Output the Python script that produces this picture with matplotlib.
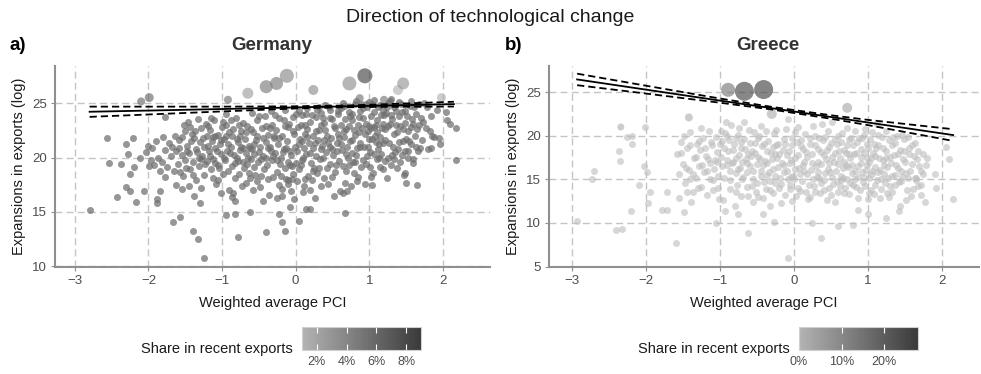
import matplotlib
matplotlib.use('Agg')
import matplotlib.pyplot as plt
from matplotlib.colors import LinearSegmentedColormap, Normalize
from matplotlib.cm import ScalarMappable

plt.rcParams['font.family'] = ['Liberation Sans', 'DejaVu Sans']

# ---------------- data: Germany ----------------
de_cloud = [
    (-2.03, 20.5), (-1.97, 19.8), (-1.95, 20.9), (-1.92, 19.3), (-1.90, 21.5), (-1.87, 20.0), (-1.84, 18.8), (-1.80, 21.9),
    (-1.82, 19.6), (-1.78, 20.7), (-1.75, 19.1), (-1.72, 21.3), (-1.70, 20.1), (-1.66, 18.8), (-1.64, 22.0), (-1.62, 20.6),
    (-1.60, 19.4), (-1.58, 21.6), (-1.55, 20.2), (-1.53, 18.3), (-1.51, 22.4), (-1.50, 19.8), (-1.63, 17.5), (-1.68, 21.0),
    (-1.77, 23.7),
    (-1.48, 21.1), (-1.46, 23.3), (-1.45, 20.4), (-1.43, 18.9), (-1.41, 22.2), (-1.40, 19.6), (-1.38, 21.8), (-1.36, 20.8),
    (-1.35, 17.9), (-1.33, 23.5), (-1.31, 19.2), (-1.30, 21.4), (-1.28, 22.7), (-1.27, 20.1), (-1.25, 18.4), (-1.24, 21.0),
    (-1.22, 23.1), (-1.21, 19.7), (-1.20, 22.0), (-1.34, 20.5), (-1.44, 22.8), (-1.29, 17.2),
    (-1.18, 20.6), (-1.17, 22.5), (-1.15, 18.9), (-1.14, 21.5), (-1.12, 19.9), (-1.11, 23.4), (-1.09, 20.9), (-1.08, 17.6),
    (-1.06, 22.1), (-1.05, 19.3), (-1.03, 21.2), (-1.02, 20.3), (-1.00, 22.8), (-0.99, 18.5), (-0.97, 21.7), (-0.96, 19.8),
    (-0.94, 23.0), (-0.93, 20.6), (-0.91, 22.3), (-0.90, 17.0), (-1.13, 21.9), (-1.01, 16.7), (-0.95, 24.0),
    (-0.88, 21.0), (-0.87, 19.2), (-0.85, 22.6), (-0.84, 20.2), (-0.82, 18.1), (-0.81, 23.6), (-0.79, 21.4), (-0.78, 19.7),
    (-0.76, 22.0), (-0.75, 20.7), (-0.73, 17.4), (-0.72, 23.2), (-0.70, 19.0), (-0.69, 21.7), (-0.67, 20.4), (-0.66, 22.9),
    (-0.64, 18.6), (-0.63, 21.1), (-0.61, 19.9), (-0.60, 24.1), (-0.86, 16.4), (-0.74, 22.4), (-0.68, 17.7), (-0.62, 20.9),
    (-0.80, 20.0),
    (-0.58, 22.3), (-0.57, 20.3), (-0.55, 18.4), (-0.54, 21.6), (-0.52, 23.4), (-0.51, 19.6), (-0.49, 21.0), (-0.48, 17.3),
    (-0.46, 22.7), (-0.45, 20.1), (-0.43, 18.9), (-0.42, 23.8), (-0.40, 21.4), (-0.39, 19.3), (-0.37, 22.1), (-0.36, 16.6),
    (-0.34, 20.6), (-0.33, 24.3), (-0.31, 18.2), (-0.30, 21.8), (-0.56, 21.2), (-0.47, 19.9), (-0.38, 20.9), (-0.32, 23.0),
    (-0.53, 17.8),
    (-0.28, 20.4), (-0.27, 22.5), (-0.25, 18.7), (-0.24, 21.2), (-0.22, 23.6), (-0.21, 19.4), (-0.19, 17.1), (-0.18, 22.0),
    (-0.16, 20.8), (-0.15, 24.4), (-0.13, 18.0), (-0.12, 21.5), (-0.10, 19.6), (-0.09, 23.1), (-0.07, 16.9), (-0.06, 20.2),
    (-0.04, 22.4), (-0.03, 18.5), (-0.01, 21.0), (0.00, 24.0), (-0.26, 16.3), (-0.20, 20.0), (-0.11, 17.6), (-0.05, 19.2),
    (-0.02, 16.2), (-0.14, 22.9),
    (0.02, 20.6), (0.03, 22.8), (0.05, 18.9), (0.06, 21.7), (0.08, 23.9), (0.09, 19.8), (0.11, 17.4), (0.12, 22.2),
    (0.14, 20.3), (0.15, 24.5), (0.17, 18.3), (0.18, 21.3), (0.20, 23.3), (0.21, 19.5), (0.23, 22.0), (0.24, 20.9),
    (0.26, 16.3), (0.27, 23.7), (0.29, 18.6), (0.30, 21.6), (0.04, 24.3), (0.10, 16.8), (0.16, 21.9), (0.22, 17.9),
    (0.28, 20.1), (0.13, 23.0), (0.07, 19.3),
    (0.32, 22.5), (0.33, 19.9), (0.35, 24.1), (0.36, 21.1), (0.38, 18.1), (0.39, 23.2), (0.41, 20.5), (0.42, 22.0),
    (0.44, 17.6), (0.45, 24.6), (0.47, 19.4), (0.48, 21.8), (0.50, 23.5), (0.51, 20.2), (0.53, 18.7), (0.54, 22.7),
    (0.56, 21.3), (0.57, 24.3), (0.59, 19.7), (0.60, 16.9), (0.34, 20.8), (0.40, 24.8), (0.46, 21.0), (0.52, 16.5),
    (0.58, 22.2), (0.37, 23.6),
    (0.62, 23.0), (0.63, 20.7), (0.65, 24.7), (0.66, 21.9), (0.68, 18.8), (0.69, 22.6), (0.71, 20.0), (0.72, 24.2),
    (0.74, 21.5), (0.75, 17.4), (0.77, 23.4), (0.78, 19.6), (0.80, 22.1), (0.81, 24.9), (0.83, 20.9), (0.84, 18.2),
    (0.86, 23.7), (0.87, 21.3), (0.89, 19.1), (0.90, 22.7), (0.64, 25.0), (0.70, 16.9), (0.76, 20.4), (0.82, 25.2),
    (0.88, 24.3), (0.67, 17.7), (0.73, 22.9), (0.79, 18.6),
    (0.92, 24.5), (0.93, 21.0), (0.95, 23.1), (0.96, 19.4), (0.98, 22.4), (0.99, 25.1), (1.01, 20.5), (1.02, 23.8),
    (1.04, 21.7), (1.05, 18.6), (1.07, 24.2), (1.08, 22.0), (1.10, 19.9), (1.11, 23.4), (1.13, 21.2), (1.14, 24.8),
    (1.16, 20.3), (1.17, 22.7), (1.19, 18.9), (1.20, 23.9), (0.94, 17.6), (1.00, 22.9), (1.06, 25.3), (1.12, 20.8),
    (1.18, 24.4), (0.97, 20.1), (1.03, 18.2), (1.09, 21.4), (1.15, 19.1),
    (1.22, 21.6), (1.23, 24.1), (1.25, 20.0), (1.26, 22.9), (1.28, 25.2), (1.29, 19.3), (1.31, 23.5), (1.32, 21.0),
    (1.34, 24.6), (1.35, 20.5), (1.37, 22.3), (1.38, 19.0), (1.40, 23.8), (1.41, 21.4), (1.43, 24.9), (1.44, 20.2),
    (1.46, 22.6), (1.47, 18.4), (1.49, 23.2), (1.50, 21.7), (1.24, 18.1), (1.30, 25.4), (1.36, 23.0), (1.42, 19.6),
    (1.48, 24.3),
    (1.52, 22.4), (1.53, 20.0), (1.55, 24.7), (1.57, 21.2), (1.58, 23.5), (1.60, 19.5), (1.62, 22.0), (1.64, 24.0),
    (1.66, 20.6), (1.68, 23.0), (1.71, 21.6), (1.74, 25.0), (1.77, 22.7), (1.80, 20.8), (1.84, 23.8), (1.88, 21.9),
    (1.92, 24.4), (1.56, 25.2), (1.63, 21.0), (1.70, 23.6), (1.59, 19.9), (1.85, 22.0),
]
de_cloud2 = [
    (-1.59, 20.9), (-1.54, 21.9), (-1.49, 19.0), (-1.47, 20.6), (-1.42, 21.5), (-1.39, 18.4), (-1.37, 22.4), (-1.32, 20.0),
    (-1.26, 21.8), (-1.23, 19.4), (-1.19, 22.9), (-1.57, 18.7), (-1.52, 23.0), (-1.45, 17.4), (-1.28, 19.9),
    (-1.16, 20.1), (-1.13, 18.1), (-1.10, 22.0), (-1.07, 20.6), (-1.04, 19.0), (-1.01, 21.6), (-0.98, 20.0), (-0.95, 22.0),
    (-0.92, 18.8), (-1.15, 23.6), (-1.06, 17.9), (-0.99, 23.3), (-0.92, 21.2), (-1.19, 21.1), (-1.09, 19.5),
    (-0.89, 20.4), (-0.86, 22.0), (-0.83, 19.5), (-0.80, 21.7), (-0.77, 18.5), (-0.74, 21.0), (-0.71, 19.6), (-0.68, 22.3),
    (-0.65, 20.0), (-0.62, 18.1), (-0.88, 23.4), (-0.82, 16.0), (-0.77, 23.0), (-0.71, 20.9), (-0.66, 19.4), (-0.61, 22.6),
    (-0.59, 20.8), (-0.56, 19.1), (-0.53, 22.0), (-0.50, 20.5), (-0.47, 18.3), (-0.44, 21.8), (-0.41, 20.0), (-0.38, 18.0),
    (-0.35, 22.7), (-0.32, 19.8), (-0.58, 17.0), (-0.50, 23.8), (-0.44, 16.0), (-0.40, 22.9), (-0.35, 21.0), (-0.31, 20.1),
    (-0.29, 22.0), (-0.26, 19.8), (-0.23, 21.8), (-0.20, 18.3), (-0.17, 20.5), (-0.14, 19.0), (-0.11, 22.8), (-0.08, 20.6),
    (-0.05, 18.0), (-0.02, 22.2), (-0.28, 23.9), (-0.22, 17.5), (-0.16, 23.4), (-0.10, 17.9), (-0.04, 23.7), (-0.08, 19.3),
    (-0.13, 20.9), (-0.18, 16.5),
    (0.01, 19.5), (0.04, 21.2), (0.07, 23.0), (0.10, 20.0), (0.13, 18.0), (0.16, 22.6), (0.19, 20.4), (0.22, 23.9),
    (0.25, 19.0), (0.28, 22.4), (0.02, 17.8), (0.08, 21.5), (0.14, 24.0), (0.20, 17.0), (0.26, 21.3), (0.29, 24.4),
    (0.11, 20.9), (0.23, 18.8),
    (0.31, 19.0), (0.34, 23.0), (0.37, 20.0), (0.40, 22.5), (0.43, 19.0), (0.46, 23.6), (0.49, 20.8), (0.52, 22.9),
    (0.55, 19.3), (0.58, 24.0), (0.32, 24.6), (0.38, 21.6), (0.44, 21.3), (0.50, 18.2), (0.56, 20.6), (0.59, 21.8),
    (0.35, 17.4), (0.47, 24.4),
    (0.61, 21.2), (0.64, 19.2), (0.67, 23.5), (0.70, 21.0), (0.73, 19.3), (0.76, 24.0), (0.79, 22.5), (0.82, 20.2),
    (0.85, 23.0), (0.88, 21.0), (0.62, 24.5), (0.68, 20.3), (0.74, 23.8), (0.80, 19.6), (0.86, 22.3), (0.89, 24.9),
    (0.65, 22.4), (0.77, 21.6), (0.83, 17.8),
    (0.91, 23.6), (0.94, 22.2), (0.97, 24.6), (1.00, 21.7), (1.03, 22.7), (1.06, 20.3), (1.09, 23.0), (1.12, 24.6),
    (1.15, 21.9), (1.18, 23.1), (0.92, 19.8), (0.98, 21.0), (1.04, 24.9), (1.10, 22.3), (1.16, 23.9), (1.19, 21.3),
    (0.95, 24.9), (1.01, 19.1), (1.07, 22.8), (1.13, 20.0),
    (1.21, 22.6), (1.24, 24.6), (1.27, 21.3), (1.30, 23.9), (1.33, 22.2), (1.36, 24.3), (1.39, 20.8), (1.42, 22.9),
    (1.45, 24.2), (1.48, 20.6), (1.22, 19.7), (1.28, 23.1), (1.34, 19.9), (1.40, 25.1), (1.46, 21.5), (1.25, 25.0),
    (1.31, 20.2),
    (1.51, 23.8), (1.54, 21.5), (1.57, 22.8), (1.61, 24.6), (1.65, 22.6), (1.69, 20.9), (1.73, 23.3), (1.78, 24.6),
    (1.82, 22.4), (1.52, 20.6), (1.60, 23.1), (1.67, 24.9),
]
de_outliers = [
    (-2.80, 15.15), (-2.57, 21.8), (-2.54, 19.5), (-2.43, 16.4), (-2.37, 19.4), (-2.31, 21.2), (-2.28, 20.3),
    (-2.31, 17.3), (-2.25, 18.5), (-2.25, 16.9), (-2.21, 21.8), (-2.19, 19.1), (-2.17, 15.9), (-2.12, 20.0),
    (-2.06, 16.9), (-2.00, 21.1), (-1.99, 19.2), (-1.89, 15.8), (-1.88, 16.2), (-1.85, 16.9), (-1.77, 18.2),
    (-1.67, 14.1), (-1.57, 14.5), (-1.39, 13.3), (-1.33, 12.5), (-1.25, 10.8), (-1.30, 15.8), (-1.38, 16.5),
    (-1.55, 17.1), (-0.94, 14.7), (-0.85, 16.7), (-0.79, 12.7), (-0.83, 14.8), (-0.62, 15.0), (-0.40, 13.2),
    (-0.23, 14.8), (-0.15, 13.3), (-0.19, 14.1), (-0.08, 15.5), (0.05, 14.2), (0.14, 15.3), (0.20, 15.3),
    (0.67, 14.9), (0.64, 16.7), (1.04, 17.5), (1.48, 18.6), (1.50, 17.7), (1.65, 17.5), (1.84, 20.9),
    (1.95, 21.8), (1.96, 21.2), (2.05, 23.4), (2.10, 23.1), (2.18, 22.7), (2.18, 19.8), (2.04, 24.2),
]
# large products: x, y, share in recent exports (%), marker diameter (px)
de_big_x = [-2.10, -1.99, -0.92, -0.65, -0.40, -0.26, -0.12, 0.24, 0.73, 0.94, 1.39, 1.46, 1.98, 0.87, 1.20]
de_big_y = [25.15, 25.5, 25.3, 25.9, 26.5, 26.8, 27.5, 26.2, 26.8, 27.5, 26.2, 26.8, 25.5, 25.45, 25.3]
de_big_share = [5.8, 5.8, 5.2, 2.4, 4.6, 4.6, 3.8, 3.3, 3.3, 8.2, 1.1, 2.9, 0.5, 5.0, 5.0]
de_big_size = [8, 9, 8, 11, 13, 13, 14, 10, 14, 15, 10, 12, 9, 8, 8]

de_fit_x = [-2.8, -2.0, -1.0, 0.0, 0.5, 1.0, 1.5, 2.15]
de_fit_y = [24.20, 24.31, 24.45, 24.60, 24.67, 24.74, 24.81, 24.90]
de_fit_hi = [24.67, 24.67, 24.67, 24.70, 24.75, 24.84, 24.96, 25.12]
de_fit_lo = [23.73, 23.95, 24.23, 24.50, 24.59, 24.64, 24.66, 24.68]

# ---------------- data: Greece ----------------
gr_cloud = [
    (-1.58, 17.9), (-1.55, 15.6), (-1.52, 19.3), (-1.50, 16.8), (-1.47, 14.6), (-1.45, 18.6), (-1.42, 16.1), (-1.40, 20.4),
    (-1.37, 13.6), (-1.35, 17.4), (-1.33, 15.2), (-1.31, 19.0), (-1.56, 12.9), (-1.48, 20.0), (-1.39, 12.4),
    (-1.29, 16.5), (-1.27, 18.4), (-1.25, 14.1), (-1.23, 19.7), (-1.21, 15.8), (-1.19, 17.7), (-1.17, 13.2), (-1.15, 20.6),
    (-1.13, 16.9), (-1.11, 18.9), (-1.09, 14.9), (-1.07, 17.2), (-1.05, 19.9), (-1.03, 15.4), (-1.01, 12.7), (-1.26, 20.9),
    (-1.18, 16.0), (-1.10, 13.8), (-1.04, 18.1),
    (-0.99, 17.6), (-0.97, 19.4), (-0.95, 15.1), (-0.93, 20.3), (-0.91, 16.6), (-0.89, 18.2), (-0.87, 13.9), (-0.85, 21.2),
    (-0.83, 17.0), (-0.81, 19.0), (-0.79, 15.7), (-0.77, 14.4), (-0.75, 20.1), (-0.73, 16.3), (-0.71, 18.6), (-0.96, 12.6),
    (-0.92, 21.6), (-0.86, 16.0), (-0.80, 12.0), (-0.74, 17.8), (-0.78, 19.8), (-0.72, 13.1),
    (-0.69, 15.3), (-0.67, 19.6), (-0.65, 17.3), (-0.63, 14.1), (-0.61, 20.7), (-0.59, 16.5), (-0.57, 18.3), (-0.55, 15.0),
    (-0.53, 19.2), (-0.51, 13.5), (-0.49, 17.6), (-0.47, 20.0), (-0.45, 16.0), (-0.43, 18.8), (-0.41, 14.7), (-0.68, 21.6),
    (-0.62, 17.9), (-0.56, 12.4), (-0.50, 16.8), (-0.44, 21.1), (-0.64, 15.9), (-0.48, 19.7), (-0.42, 12.9),
    (-0.39, 17.1), (-0.37, 15.5), (-0.35, 19.4), (-0.33, 13.8), (-0.31, 18.0), (-0.29, 16.2), (-0.27, 20.3), (-0.25, 14.6),
    (-0.23, 17.5), (-0.21, 19.0), (-0.19, 15.1), (-0.17, 12.3), (-0.15, 18.4), (-0.13, 16.6), (-0.11, 20.8), (-0.38, 20.5),
    (-0.32, 12.0), (-0.26, 17.9), (-0.20, 14.0), (-0.14, 15.8), (-0.12, 13.2), (-0.36, 16.9), (-0.24, 18.9),
    (-0.09, 16.0), (-0.07, 18.3), (-0.05, 14.4), (-0.03, 19.8), (-0.01, 15.4), (0.01, 17.4), (0.03, 13.1), (0.05, 21.0),
    (0.07, 16.3), (0.09, 18.8), (0.11, 14.8), (0.13, 17.0), (0.15, 20.2), (0.17, 15.6), (0.19, 12.8), (-0.08, 21.9),
    (-0.04, 17.2), (0.00, 15.0), (0.04, 19.3), (0.08, 13.7), (0.12, 16.7), (0.16, 18.1), (-0.02, 12.5),
    (0.21, 19.1), (0.23, 16.1), (0.25, 17.9), (0.27, 14.2), (0.29, 20.0), (0.31, 15.3), (0.33, 18.5), (0.35, 13.4),
    (0.37, 16.8), (0.39, 19.5), (0.41, 14.9), (0.43, 17.3), (0.45, 12.6), (0.47, 18.7), (0.49, 15.8), (0.22, 13.0),
    (0.26, 21.1), (0.30, 16.5), (0.34, 15.1), (0.38, 21.3), (0.42, 19.9), (0.46, 16.2), (0.48, 14.0),
    (0.51, 17.6), (0.53, 14.5), (0.55, 19.6), (0.57, 16.0), (0.59, 13.6), (0.61, 18.2), (0.63, 15.4), (0.65, 20.3),
    (0.67, 17.0), (0.69, 14.0), (0.71, 18.9), (0.73, 16.4), (0.75, 13.3), (0.77, 19.8), (0.79, 15.7), (0.52, 21.6),
    (0.56, 12.4), (0.60, 16.8), (0.64, 14.9), (0.68, 18.4), (0.72, 20.9), (0.76, 17.5), (0.80, 14.4), (0.58, 19.0),
    (0.66, 15.2),
    (0.81, 17.9), (0.83, 15.0), (0.85, 19.3), (0.87, 16.5), (0.89, 13.8), (0.91, 18.5), (0.93, 14.7), (0.95, 20.1),
    (0.97, 16.1), (0.99, 17.4), (1.01, 13.4), (1.03, 19.6), (1.05, 15.6), (1.07, 18.0), (1.09, 14.3), (0.82, 20.6),
    (0.86, 12.9), (0.90, 16.9), (0.94, 15.3), (0.98, 19.1), (1.02, 17.0), (1.06, 20.4), (1.10, 16.4), (0.84, 14.1),
    (1.00, 12.7),
    (1.11, 18.6), (1.13, 15.9), (1.15, 17.5), (1.17, 13.9), (1.19, 19.9), (1.21, 16.6), (1.23, 14.6), (1.25, 18.2),
    (1.27, 15.2), (1.29, 19.5), (1.31, 16.9), (1.33, 13.6), (1.35, 17.8), (1.37, 15.5), (1.39, 20.0), (1.12, 21.4),
    (1.16, 12.9), (1.20, 17.2), (1.24, 20.5), (1.28, 13.0), (1.32, 18.9), (1.36, 14.4),
    (1.41, 16.3), (1.43, 18.4), (1.45, 14.8), (1.47, 17.3), (1.49, 19.6), (1.51, 15.7), (1.53, 13.8), (1.55, 17.9),
    (1.57, 16.0), (1.60, 18.9), (1.63, 15.1), (1.66, 17.3), (1.69, 16.5), (1.72, 14.4), (1.75, 17.9), (1.46, 20.1),
    (1.58, 13.1), (1.64, 19.2), (1.78, 16.6), (1.52, 12.6),
]
gr_cloud2 = [
    (-1.53, 18.0), (-1.46, 16.3), (-1.41, 18.9), (-1.36, 15.6), (-1.32, 17.6), (-1.28, 19.4), (-1.24, 16.7), (-1.20, 18.6),
    (-1.44, 13.6), (-1.30, 14.0),
    (-1.16, 17.3), (-1.12, 19.3), (-1.08, 16.2), (-1.04, 17.0), (-1.00, 19.1), (-0.97, 16.5), (-0.94, 18.6), (-0.90, 17.2),
    (-1.14, 15.0), (-1.02, 14.0), (-0.98, 20.5),
    (-0.88, 19.5), (-0.84, 16.9), (-0.82, 18.4), (-0.78, 17.4), (-0.76, 16.2), (-0.72, 19.3), (-0.70, 17.0), (-0.66, 18.5),
    (-0.63, 16.9), (-0.60, 19.2), (-0.86, 14.9), (-0.79, 13.5), (-0.70, 15.0), (-0.62, 13.1), (-0.90, 20.0), (-0.74, 20.9),
    (-0.58, 17.7), (-0.56, 16.0), (-0.52, 18.0), (-0.50, 14.6), (-0.46, 17.3), (-0.44, 15.4), (-0.40, 19.1), (-0.36, 18.2),
    (-0.34, 15.9), (-0.30, 17.3), (-0.54, 20.4), (-0.48, 13.0), (-0.42, 16.6), (-0.32, 14.8), (-0.57, 14.2), (-0.38, 13.9),
    (-0.28, 18.7), (-0.26, 15.4), (-0.22, 16.4), (-0.20, 17.9), (-0.16, 16.9), (-0.14, 19.6), (-0.10, 17.8), (-0.06, 16.9),
    (-0.04, 15.3), (-0.02, 18.9), (-0.28, 13.4), (-0.18, 14.5), (-0.12, 19.0), (-0.06, 13.9), (-0.24, 20.7), (-0.08, 15.0),
    (0.02, 16.2), (0.06, 17.8), (0.08, 15.6), (0.10, 19.5), (0.14, 16.0), (0.18, 17.6), (0.20, 14.3), (0.24, 16.9),
    (0.28, 18.9), (0.02, 20.4), (0.06, 14.0), (0.12, 18.5), (0.16, 13.5), (0.22, 19.7), (0.26, 15.0), (0.28, 13.6),
    (0.32, 17.0), (0.34, 19.7), (0.36, 14.6), (0.40, 17.8), (0.42, 15.7), (0.44, 18.4), (0.48, 16.9), (0.50, 19.2),
    (0.52, 15.3), (0.54, 17.0), (0.36, 18.1), (0.40, 13.8), (0.46, 20.6), (0.50, 13.2), (0.56, 18.0), (0.58, 14.8),
    (0.32, 15.8),
    (0.62, 17.4), (0.64, 19.3), (0.66, 16.3), (0.70, 18.0), (0.72, 15.0), (0.74, 17.9), (0.78, 16.6), (0.80, 18.9),
    (0.82, 16.0), (0.84, 18.0), (0.62, 14.2), (0.68, 13.4), (0.74, 19.6), (0.76, 14.6), (0.86, 15.3), (0.88, 19.8),
    (0.70, 16.6), (0.60, 20.0),
    (0.90, 17.6), (0.92, 15.8), (0.94, 18.0), (0.96, 14.2), (0.98, 16.6), (1.00, 18.6), (1.02, 15.2), (1.04, 17.5),
    (1.06, 16.0), (1.08, 19.1), (1.10, 17.7), (1.12, 14.9), (1.14, 18.9), (1.16, 16.1), (1.18, 15.0), (0.92, 19.7),
    (1.04, 13.8), (1.08, 13.3), (0.96, 20.8), (1.14, 20.1),
    (1.20, 18.6), (1.22, 15.6), (1.24, 17.4), (1.26, 16.4), (1.30, 17.6), (1.32, 15.4), (1.34, 19.9), (1.38, 16.7),
    (1.40, 17.9), (1.42, 14.7), (1.44, 16.0), (1.48, 18.3), (1.26, 13.4), (1.36, 19.2), (1.30, 14.2), (1.46, 15.3),
    (1.50, 17.0), (1.54, 15.1), (1.56, 18.6), (1.59, 16.8), (1.62, 17.7), (1.65, 14.9), (1.68, 18.3), (1.71, 16.0),
    (1.74, 15.6), (1.54, 19.9), (1.61, 13.9), (1.80, 17.4),
]
gr_outliers = [
    (-2.93, 10.2), (-2.70, 16.0), (-2.73, 15.0), (-2.41, 9.15), (-2.32, 9.3), (-2.20, 11.35), (-2.36, 18.3),
    (-2.35, 17.1), (-2.26, 19.9), (-2.19, 19.0), (-2.19, 19.98), (-2.10, 14.4), (-2.01, 21.0), (-2.02, 16.5),
    (-1.99, 15.8), (-1.97, 12.3), (-1.95, 13.5), (-1.78, 11.5), (-1.71, 11.5), (-1.72, 13.5), (-1.60, 7.7),
    (-1.48, 11.2), (-1.41, 15.0), (-1.06, 10.0), (-0.93, 11.35), (-0.75, 11.0), (-0.62, 8.8), (-0.42, 11.0),
    (-0.27, 10.1), (-0.08, 6.0), (0.25, 10.0), (0.37, 8.3), (0.60, 9.6), (0.80, 9.8), (0.87, 11.5), (1.00, 11.0),
    (1.24, 10.6), (1.42, 11.4), (1.43, 11.9), (1.77, 12.4), (1.72, 13.2), (1.92, 14.0), (2.15, 12.7), (2.10, 17.3),
    (2.05, 18.7), (1.90, 15.6), (1.68, 14.2), (1.65, 15.2),
]
gr_big_x = [-0.89, -0.67, -0.41, 0.72, -0.30, -1.42, -2.34]
gr_big_y = [25.27, 25.1, 25.3, 23.2, 22.5, 22.1, 21.0]
gr_big_share = [13.3, 24.7, 25.6, 2.0, 1.0, 0.5, 0.5]
gr_big_size = [14, 19, 19, 10, 10, 8, 7]

gr_fit_x = [-2.93, -2.0, -1.0, -0.3, 0.5, 1.0, 2.15]
gr_fit_y = [26.46, 25.29, 24.03, 23.16, 22.15, 21.52, 20.08]
gr_fit_hi = [27.12, 25.74, 24.27, 23.31, 22.35, 21.82, 20.75]
gr_fit_lo = [25.80, 24.84, 23.79, 23.01, 21.95, 21.22, 19.41]

de_cbar_ticks = [2, 4, 6, 8]
gr_cbar_ticks = [0, 10, 20]

# ---------------- drawing ----------------
cmap = LinearSegmentedColormap.from_list('share', ['#b3b3b3', '#3a3a3a'])
W, H = 981, 374

fig = plt.figure(figsize=(W / 100, H / 100), dpi=100)
fig.patch.set_facecolor('white')


def px_axes(x0, x1, y_top, y_bot):
    return fig.add_axes([x0 / W, 1 - y_bot / H, (x1 - x0) / W, (y_bot - y_top) / H])


def panel(ax, clouds, outl, bx, by, bshare, bsize, norm, small_color, small_alpha,
          fx, fy, fhi, flo, xlim, ylim, yticks):
    ax.set_xlim(*xlim)
    ax.set_ylim(*ylim)
    ax.set_axisbelow(True)
    ax.grid(True, color='#c4c4c4', linestyle=(0, (5, 3)), linewidth=1.0)
    pts = [p for c in clouds for p in c] + outl
    ax.scatter([p[0] for p in pts], [p[1] for p in pts], s=(0.72 * 7) ** 2,
               color=small_color, alpha=small_alpha, linewidths=0, zorder=2)
    ax.scatter(bx, by, s=[(0.72 * d) ** 2 for d in bsize], c=bshare, cmap=cmap, norm=norm,
               alpha=0.65, linewidths=0, zorder=3)
    ax.plot(fx, fy, color='black', lw=1.3, zorder=4)
    ax.plot(fx, fhi, color='black', lw=1.3, ls=(0, (4, 2.2)), zorder=4)
    ax.plot(fx, flo, color='black', lw=1.3, ls=(0, (4, 2.2)), zorder=4)
    ax.set_xticks([-3, -2, -1, 0, 1, 2])
    ax.set_yticks(yticks)
    for s in ['top', 'right']:
        ax.spines[s].set_visible(False)
    for s in ['left', 'bottom']:
        ax.spines[s].set_color('#8f8f8f')
        ax.spines[s].set_linewidth(1.5)
    ax.tick_params(axis='both', length=3, width=0.8, color='#8f8f8f',
                   labelsize=9.5, labelcolor='#4d4d4d', pad=3)
    ax.set_xlabel('Weighted average PCI', fontsize=10.5, color='#1a1a1a', labelpad=6)
    ax.set_ylabel('Expansions in exports (log)', fontsize=10.5, color='#1a1a1a', labelpad=4)


de_norm = Normalize(vmin=1.0, vmax=9.0)
gr_norm = Normalize(vmin=0.0, vmax=28.0)

axL = px_axes(55, 490, 66, 267)
panel(axL, [de_cloud, de_cloud2], de_outliers, de_big_x, de_big_y, de_big_share, de_big_size, de_norm,
      '#6e6e6e', 0.72, de_fit_x, de_fit_y, de_fit_hi, de_fit_lo,
      (-3.27, 2.64), (9.95, 28.4), [10, 15, 20, 25])

axR = px_axes(549, 979, 66, 267)
panel(axR, [gr_cloud, gr_cloud2], gr_outliers, gr_big_x, gr_big_y, gr_big_share, gr_big_size, gr_norm,
      '#bdbdbd', 0.6, gr_fit_x, gr_fit_y, gr_fit_hi, gr_fit_lo,
      (-3.31, 2.50), (4.95, 28.0), [5, 10, 15, 20, 25])

# titles
fig.text(490 / W, 1 - 18 / H, 'Direction of technological change', ha='center', va='center',
         fontsize=14, color='#1a1a1a')
fig.text(272 / W, 1 - 46 / H, 'Germany', ha='center', va='center', fontsize=13.5,
         fontweight='bold', color='#333333')
fig.text(768 / W, 1 - 46 / H, 'Greece', ha='center', va='center', fontsize=13.5,
         fontweight='bold', color='#333333')
fig.text(9 / W, 1 - 46 / H, 'a)', ha='left', va='center', fontsize=13.5, fontweight='bold')
fig.text(505 / W, 1 - 46 / H, 'b)', ha='left', va='center', fontsize=13.5, fontweight='bold')


# colorbars
def cbar(x0, x1, norm, ticks, label_right):
    cax = px_axes(x0, x1, 327, 350)
    cb = fig.colorbar(ScalarMappable(norm=norm, cmap=cmap), cax=cax, orientation='horizontal')
    cb.set_ticks(ticks)
    cb.set_ticklabels([f'{t}%' for t in ticks])
    cb.outline.set_edgecolor('#d0d0d0')
    cb.outline.set_linewidth(0.8)
    cax.tick_params(axis='x', direction='in', length=4.5, width=0.8, color='white',
                    top=True, bottom=True, labelsize=9, labelcolor='#4d4d4d', pad=4)
    fig.text(label_right / W, 1 - 349 / H, 'Share in recent exports', ha='right', va='center',
             fontsize=10.5, color='#1a1a1a')


cbar(302, 421, de_norm, de_cbar_ticks, 293)
cbar(799, 918, gr_norm, gr_cbar_ticks, 790)

fig.savefig('out.png', dpi=100, facecolor='white')
